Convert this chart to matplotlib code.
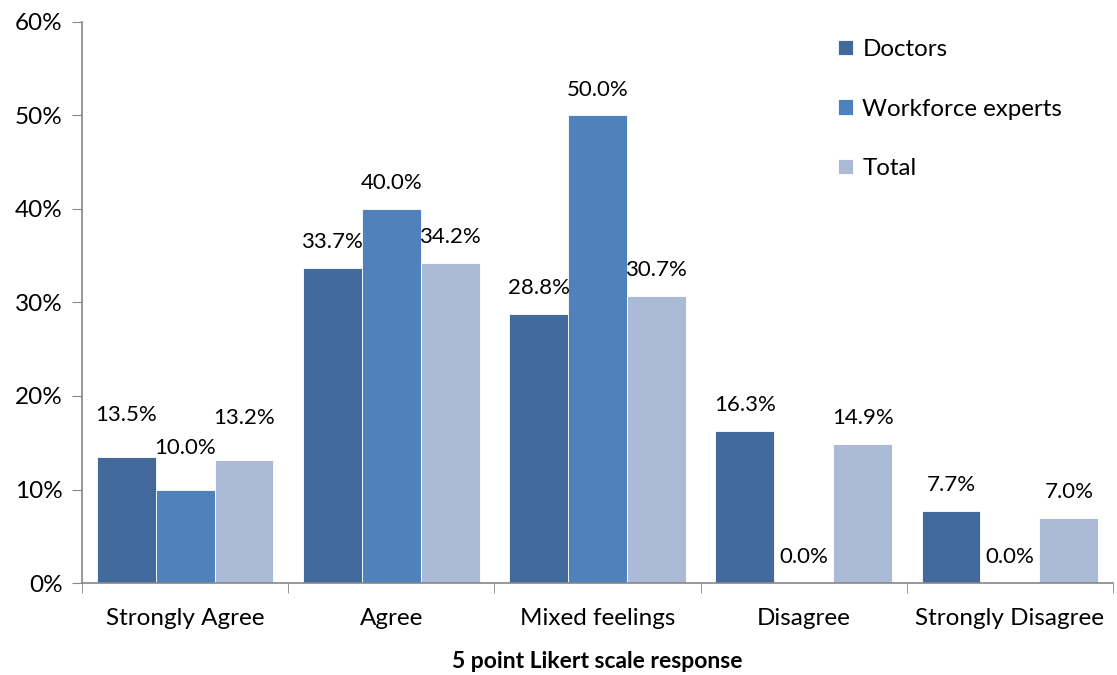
import matplotlib
matplotlib.use("Agg")
import matplotlib.pyplot as plt
import numpy as np

categories = ["Strongly Agree", "Agree", "Mixed feelings", "Disagree", "Strongly Disagree"]
doctors = [13.5, 33.7, 28.8, 16.3, 7.7]
experts = [10.0, 40.0, 50.0, 0.0, 0.0]
total = [13.2, 34.2, 30.7, 14.9, 7.0]
series_names = ["Doctors", "Workforce experts", "Total"]
yticks = [0, 10, 20, 30, 40, 50, 60]

colors = ["#41699C", "#4F81BD", "#AABAD7"]
plt.rcParams['font.family'] = ['Lato', 'DejaVu Sans']

fig = plt.figure(figsize=(11.17, 6.75), dpi=100)
ax = fig.add_axes([82/1117, 92/675, (1113-82)/1117, (583-22)/675])

x = np.arange(len(categories))
w = 0.857 / 3
label_off = [42, 26, 26, 26, 26]
for i, (vals, name, c) in enumerate(zip([doctors, experts, total], series_names, colors)):
    pos = x + (i - 1) * w
    ax.bar(pos, vals, width=w, color=c, label=name, edgecolor='white', linewidth=0.6, zorder=2)
    for j, (p, v) in enumerate(zip(pos, vals)):
        off = label_off[j]
        ax.annotate(f"{v:.1f}%", (p, v), xytext=(0, off), textcoords='offset pixels',
                    ha='center', va='center', fontsize=16, color='black')

ax.set_xlim(-0.5, len(categories) - 0.5)
ax.set_ylim(0, 60)
ax.set_yticks(yticks)
ax.set_yticklabels([f"{t}%" for t in yticks], fontsize=17.5)
ax.set_xticks(x)
ax.set_xticklabels(categories, fontsize=17.5)
ax.tick_params(axis='x', length=0, pad=18)
ax.set_xticks(np.arange(-0.5, len(categories) + 0.5, 1), minor=True)
ax.tick_params(axis='x', which='minor', length=7, color='#868686', direction='out')
ax.tick_params(axis='y', length=7, color='#868686', direction='out', pad=7)
for s in ['top', 'right']:
    ax.spines[s].set_visible(False)
for s in ['left', 'bottom']:
    ax.spines[s].set_color('#868686')
    ax.spines[s].set_linewidth(1.2)
ax.set_xlabel("5 point Likert scale response", fontsize=16.5, fontweight='bold', labelpad=16)

leg = ax.legend(loc='upper left', bbox_to_anchor=(0.717, 1.0), frameon=False, fontsize=17.4,
                handlelength=0.6, handleheight=0.6, labelspacing=1.6, handletextpad=0.4,
                borderaxespad=0.3)

fig.savefig("out.png", dpi=100)
